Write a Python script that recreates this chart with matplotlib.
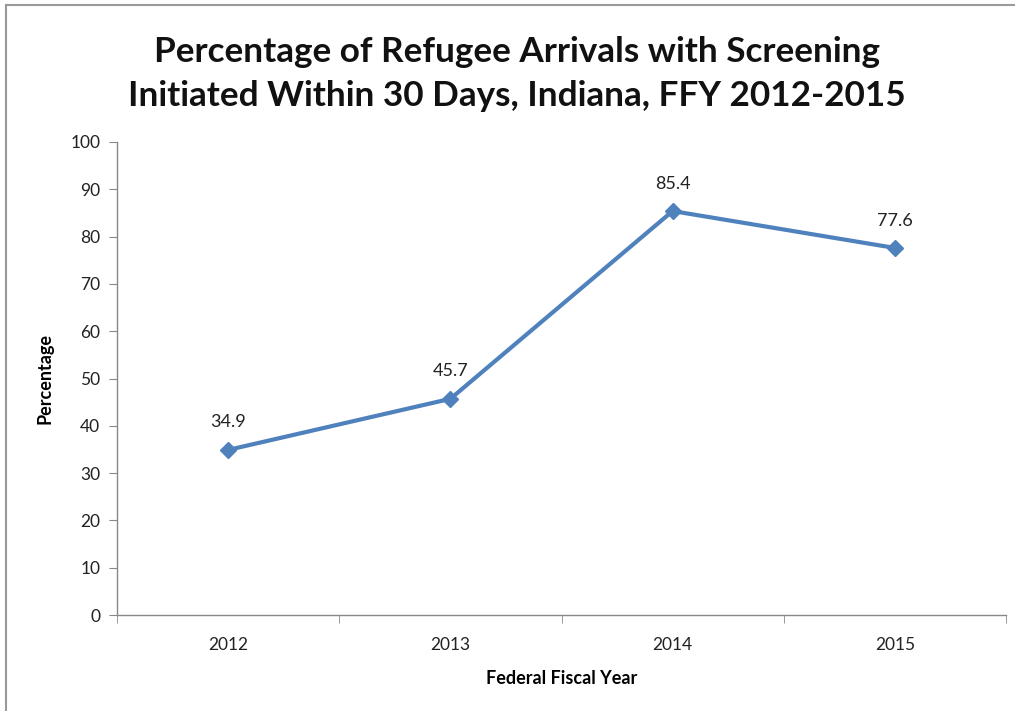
import matplotlib
matplotlib.use("Agg")
import matplotlib.pyplot as plt
from matplotlib.lines import Line2D

years = ["2012", "2013", "2014", "2015"]
values = [34.9, 45.7, 85.4, 77.6]
yticks = [0, 10, 20, 30, 40, 50, 60, 70, 80, 90, 100]

plt.rcParams['font.family'] = ['Lato', 'DejaVu Sans']

W, H = 1015, 711
fig = plt.figure(figsize=(W / 100, H / 100), dpi=100)
ax = fig.add_axes([117 / W, 1 - 615 / H, (1006 - 117) / W, (615 - 142) / H])

x = list(range(len(years)))
color = "#4F81BD"
ax.plot(x, values, color=color, lw=3, marker="D", ms=8, zorder=3)
for xi, v in zip(x, values):
    ax.annotate(f"{v}", (xi, v), xytext=(0, 14), textcoords="offset points",
                ha="center", va="bottom", fontsize=13, color="#222222")

ax.set_xlim(-0.5, len(years) - 0.5)
ax.set_ylim(0, 100)
ax.set_yticks(yticks)
ax.set_xticks(x)
ax.set_xticklabels(years)
ax.set_xticks([i - 0.5 for i in range(len(years) + 1)], minor=True)
ax.tick_params(axis="x", which="major", length=0, pad=16, labelsize=12.5, labelcolor="#222222")
ax.tick_params(axis="x", which="minor", length=6, direction="out", color="#888888")
ax.tick_params(axis="y", length=6, direction="out", color="#888888", labelsize=12.5,
               labelcolor="#222222", pad=6)
for s in ["top", "right"]:
    ax.spines[s].set_visible(False)
for s in ["left", "bottom"]:
    ax.spines[s].set_color("#888888")
    ax.spines[s].set_linewidth(1)

ax.set_xlabel("Federal Fiscal Year", fontsize=13, fontweight="bold", labelpad=12)
ax.set_ylabel("Percentage", fontsize=13, fontweight="bold", labelpad=12)

fig.text(517 / W, 1 - 74 / H,
         "Percentage of Refugee Arrivals with Screening\nInitiated Within 30 Days, Indiana, FFY 2012-2015",
         ha="center", va="center", fontsize=25.3, fontweight="bold", linespacing=1.45,
         color="#111111")

fig.add_artist(Line2D([6 / W, 1], [1 - 5 / H, 1 - 5 / H], transform=fig.transFigure,
                      color="#999999", lw=1.5))
fig.add_artist(Line2D([6 / W, 6 / W], [0, 1 - 5 / H], transform=fig.transFigure,
                      color="#999999", lw=1.5))

fig.savefig("out.png", dpi=100)
